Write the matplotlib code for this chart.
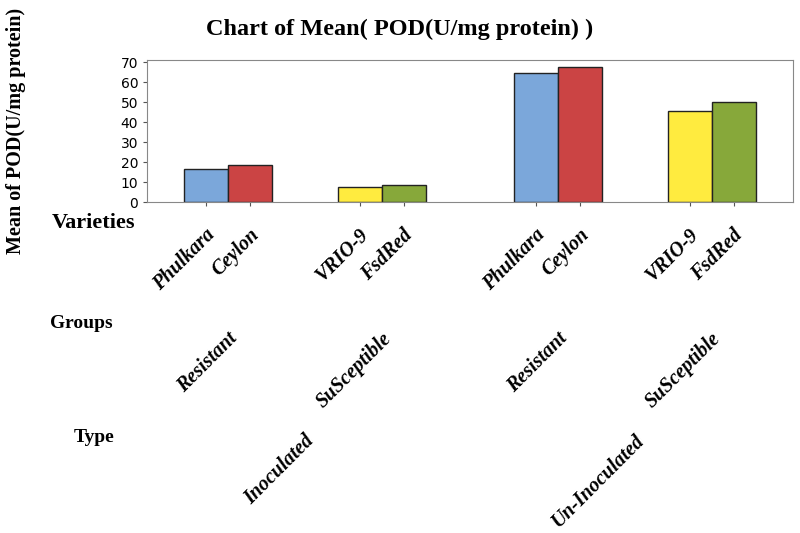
import matplotlib
matplotlib.use("Agg")
import matplotlib.pyplot as plt
from matplotlib import transforms

# data
varieties = ["Phulkara", "Ceylon", "VRIO-9", "FsdRed", "Phulkara", "Ceylon", "VRIO-9", "FsdRed"]
groups = ["Resistant", "SuSceptible", "Resistant", "SuSceptible"]
types = ["Inoculated", "Un-Inoculated"]
pod_mean = [16.6, 18.6, 7.7, 8.4, 64.6, 67.4, 45.8, 50.3]
bar_colors = ["#7BA7DA", "#CB4444", "#FFEB3F", "#87A83A"] * 2

# cluster centres (bar width = 1), wider gap between the two types
cluster_x = [0.0, 3.5, 7.5, 11.0]
bar_x = []
for c in cluster_x:
    bar_x += [c - 0.5, c + 0.5]
type_x = [(cluster_x[0] + cluster_x[1]) / 2, (cluster_x[2] + cluster_x[3]) / 2]

fig = plt.figure(figsize=(8, 5.33), dpi=100)
ax = fig.add_axes([0.184, 0.621, 0.807, 0.266])

ax.bar(bar_x, pod_mean, width=1.0, color=bar_colors, edgecolor="#222222", linewidth=1.0)
ax.set_xlim(-1.84, 12.84)
ax.set_ylim(0, 71)
ax.set_yticks(range(0, 71, 10))
ax.set_xticks(bar_x)
ax.set_xticklabels([])
ax.tick_params(axis="both", direction="out", length=3, color="#555555", labelsize=10)
for s in ax.spines.values():
    s.set_color("#888888")

fig.text(0.5, 0.944, "Chart of Mean( POD(U/mg protein) )", ha="center", va="center",
         family="Liberation Serif", fontweight="bold", fontsize=17.5)
fig.text(0.02, 0.755, "Mean of POD(U/mg protein)", rotation=90, ha="center", va="center",
         family="Liberation Serif", fontweight="bold", fontsize=14.5)

lab = dict(family="Liberation Serif", fontweight="bold")
fig.text(94 / 800, 1 - 223 / 533, "Varieties", ha="center", va="center", fontsize=16, **lab)
fig.text(81 / 800, 1 - 323 / 533, "Groups", ha="center", va="center", fontsize=14, **lab)
fig.text(94 / 800, 1 - 437 / 533, "Type", ha="center", va="center", fontsize=14, **lab)

# rotated category labels: x in data coords, y in figure fraction
trans = transforms.blended_transform_factory(ax.transData, fig.transFigure)
off = transforms.ScaledTranslation(6 / 100, 0, fig.dpi_scale_trans)
rot = dict(rotation=45, rotation_mode="anchor", ha="right", va="center",
           family="Liberation Serif", fontweight="bold", fontstyle="italic", fontsize=14.5)


def put_row(xs, labels, y_px):
    for x, t in zip(xs, labels):
        ax.text(x, 1 - y_px / 533, t, transform=trans + off, clip_on=False, **rot)


put_row(bar_x, varieties, 232)
put_row(cluster_x, groups, 336)
put_row(type_x, types, 438)

fig.savefig("out.png", dpi=100)
plt.close(fig)
